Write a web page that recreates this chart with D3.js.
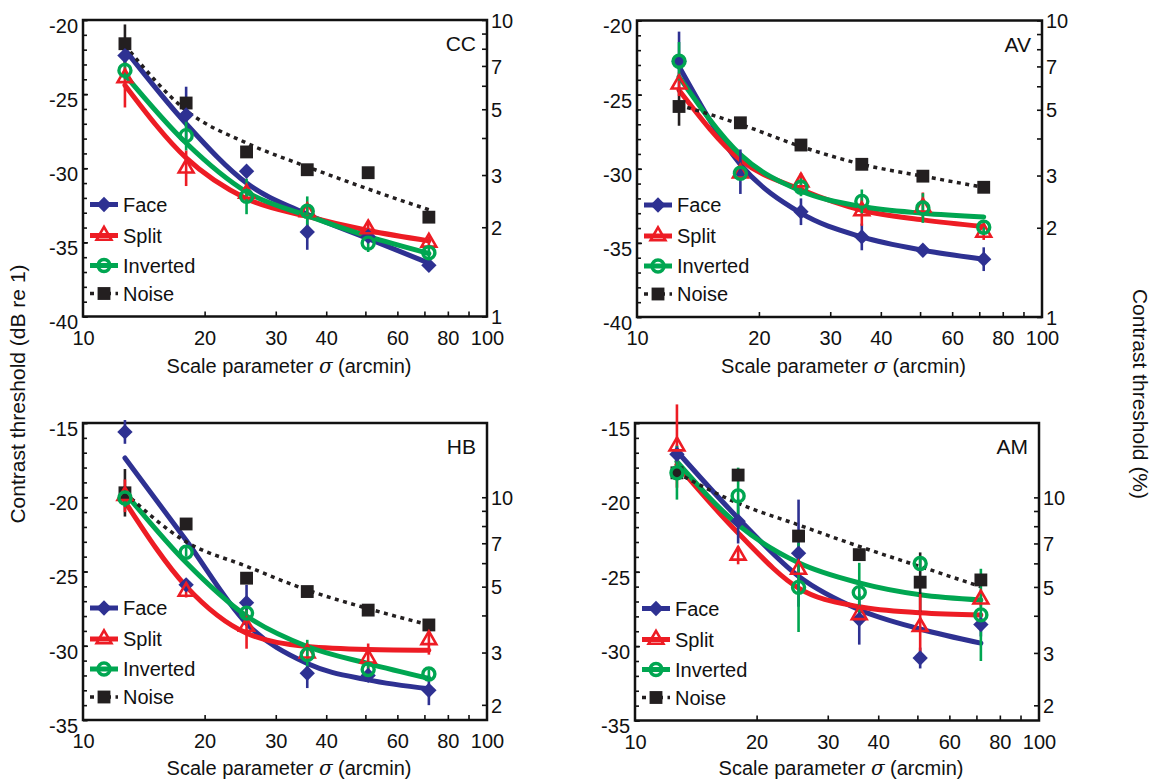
<!DOCTYPE html>
<html>
<head>
<meta charset="utf-8">
<script src="https://cdn.jsdelivr.net/npm/d3@7"></script>
<style>
  body { margin: 0; background: #fff; }
  svg { display: block; font-family: "Liberation Sans", Arial, Helvetica, sans-serif; }
</style>
</head>
<body>
<svg id="chart" width="1154" height="781"></svg>
<script>
// scale parameter sigma (arcmin), shared by every panel
const sigma = [12.7, 18, 25.4, 35.9, 50.8, 71.8];
const seriesNames = ["Face", "Split", "Inverted", "Noise"];
const observers = ["CC", "AV", "HB", "AM"];

// thresholds in dB, rows follow seriesNames
const ccMean = [
  [-22.4, -26.4, -30.2, -34.3, -34.6, -36.55],
  [-23.9, -30.0, -31.7, -32.95, -34.1, -35.0],
  [-23.4, -27.8, -31.9, -32.9, -35.05, -35.7],
  [-21.6, -25.6, -28.9, -30.1, -30.3, -33.3],
];
const ccErr = [
  [0.5, 1.9, 0.4, 1.2, 0.4, 0.3],
  [2.0, 1.2, 0.4, 0.4, 0.4, 0.4],
  [0.6, 1.0, 1.2, 1.0, 0.6, 0.4],
  [1.3, 0.4, 0.3, 0.3, 0.3, 0.3],
];
const ccFit = [
  [-22.0, -27.0, -31.0, -33.1, -34.75, -36.4],
  [-24.4, -29.3, -32.05, -33.25, -34.2, -34.9],
  [-23.7, -28.3, -31.6, -33.2, -34.6, -35.75],
  [-21.7, -26.1, -28.3, -29.9, -31.4, -32.8],
];

const avMean = [
  [-22.75, -30.2, -32.9, -34.6, -35.5, -36.1],
  [-24.3, -30.3, -30.9, -32.85, -32.6, -34.3],
  [-22.75, -30.3, -31.25, -32.2, -32.65, -33.95],
  [-25.8, -26.9, -28.4, -29.7, -30.5, -31.25],
];
const avErr = [
  [2.0, 1.5, 0.9, 0.9, 0.4, 0.8],
  [0.8, 0.4, 0.6, 1.0, 1.0, 0.5],
  [1.3, 0.4, 0.6, 0.8, 1.0, 0.5],
  [1.3, 0.3, 0.3, 0.3, 0.3, 0.3],
];
const avFit = [
  [-23.1, -29.7, -33.0, -34.6, -35.5, -36.1],
  [-24.7, -29.4, -31.4, -32.8, -33.45, -33.9],
  [-23.8, -29.05, -31.5, -32.55, -33.0, -33.25],
  [-25.7, -27.0, -28.5, -29.7, -30.5, -31.25],
];

const hbMean = [
  [-15.6, -25.9, -27.1, -31.85, -32.0, -33.0],
  [-19.9, -26.35, -28.7, -30.5, -30.85, -29.6],
  [-20.05, -23.7, -27.8, -30.6, -31.6, -31.9],
  [-19.7, -21.8, -25.45, -26.35, -27.6, -28.6],
];
const hbErr = [
  [0.8, 0.4, 1.2, 1.0, 0.4, 1.0],
  [1.1, 0.4, 1.5, 0.6, 1.0, 1.0],
  [0.6, 0.3, 0.4, 1.0, 0.4, 0.3],
  [1.6, 0.3, 0.3, 0.3, 0.3, 0.3],
];
const hbFit = [
  [-17.35, -22.9, -28.5, -31.2, -32.3, -32.9],
  [-20.3, -26.0, -29.15, -30.05, -30.25, -30.3],
  [-19.7, -24.4, -28.0, -30.05, -31.2, -32.2],
  [-19.7, -23.0, -24.65, -26.25, -27.5, -28.6],
];

const amMean = [
  [-17.1, -21.6, -23.75, -28.2, -30.8, -28.55],
  [-16.55, -23.9, -24.85, -27.9, -28.7, -26.85],
  [-18.35, -19.9, -26.05, -26.4, -24.45, -27.9],
  [-18.35, -18.5, -22.6, -23.85, -25.7, -25.55],
];
const amErr = [
  [0.6, 1.5, 3.6, 1.7, 0.7, 0.8],
  [2.8, 0.6, 0.5, 0.6, 2.2, 0.5],
  [1.8, 1.9, 3.0, 2.0, 0.5, 3.1],
  [0.5, 0.4, 0.3, 0.3, 2.0, 0.3],
];
const amFit = [
  [-16.9, -21.4, -25.3, -27.55, -28.85, -29.8],
  [-17.8, -22.4, -26.1, -27.35, -27.75, -27.9],
  [-17.6, -21.85, -24.4, -25.75, -26.55, -26.9],
  [-18.35, -20.4, -21.85, -23.3, -24.65, -26.0],
];

// axes
const xDomain = [10, 100];
const xTickLabels = [10, 20, 30, 40, 60, 80, 100];
const xMinorTicks = [20, 30, 40, 50, 60, 70, 80, 90];
const topDbDomain = [-40, -20];
const bottomDbDomain = [-35, -15];
const topDbLabels = [-40, -35, -30, -25, -20];
const bottomDbLabels = [-35, -30, -25, -20, -15];
const topPctLabels = [1, 2, 3, 5, 7, 10];
const bottomPctLabels = [2, 3, 5, 7, 10];
const pctTicks = [1, 2, 3, 4, 5, 6, 7, 8, 9, 10];

const colors = ["#2e3192", "#ed1c24", "#00a651", "#231f20"];

const svg = d3.select("#chart");

const panels = [
  { name: observers[0], mean: ccMean, err: ccErr, fit: ccFit, db: topDbDomain, dbLabels: topDbLabels, pctLabels: topPctLabels,
    x0: 83, x1: 487, y0: 20, y1: 316.5, xTitleY: 373 },
  { name: observers[1], mean: avMean, err: avErr, fit: avFit, db: topDbDomain, dbLabels: topDbLabels, pctLabels: topPctLabels,
    x0: 637, x1: 1042, y0: 20.5, y1: 317, xTitleY: 373 },
  { name: observers[2], mean: hbMean, err: hbErr, fit: hbFit, db: bottomDbDomain, dbLabels: bottomDbLabels, pctLabels: bottomPctLabels,
    x0: 83, x1: 487, y0: 423, y1: 720, xTitleY: 775 },
  { name: observers[3], mean: amMean, err: amErr, fit: amFit, db: bottomDbDomain, dbLabels: bottomDbLabels, pctLabels: bottomPctLabels,
    x0: 635, x1: 1039, y0: 423, y1: 720.5, xTitleY: 775 },
];

function marker(sel, i) {
  if (i === 0) {
    sel.append("path")
      .attr("d", d3.symbol().type(d3.symbolDiamond2).size(150)())
      .attr("fill", colors[0]);
  } else if (i === 1) {
    sel.append("path")
      .attr("d", d3.symbol().type(d3.symbolTriangle).size(95)())
      .attr("fill", "none").attr("stroke", colors[1]).attr("stroke-width", 2.6);
  } else if (i === 2) {
    sel.append("circle").attr("r", 6)
      .attr("fill", "none").attr("stroke", colors[2]).attr("stroke-width", 3.4);
  } else {
    sel.append("path")
      .attr("d", d3.symbol().type(d3.symbolSquare).size(165)())
      .attr("fill", colors[3]);
  }
}

function drawPanel(p) {
  const g = svg.append("g");
  const x = d3.scaleLog().domain(xDomain).range([p.x0, p.x1]);
  const y = d3.scaleLinear().domain(p.db).range([p.y1, p.y0]);
  const pct = d3.scaleLog()
    .domain(p.db.map((d) => 100 * Math.pow(10, d / 20)))
    .range([p.y1, p.y0]);

  // left axis: minor ticks every dB, labels every 5 dB
  g.append("g").attr("transform", `translate(${p.x0},0)`)
    .call(d3.axisLeft(y).tickValues(d3.range(p.db[0], p.db[1] + 1)).tickSize(-4).tickFormat(""))
    .call((a) => a.select(".domain").remove());
  g.append("g").attr("transform", `translate(${p.x0},0)`)
    .call(d3.axisLeft(y).tickValues(p.dbLabels).tickSize(-5).tickPadding(5).tickFormat((d) => String(d)))
    .call((a) => a.select(".domain").remove())
    .call((a) => a.selectAll("text").attr("dy", "0.62em").style("font-size", "20px").attr("fill", "#111"));

  // right axis: contrast in %
  const pTicks = pctTicks.filter((d) => d >= pct.domain()[0] - 1e-6 && d <= pct.domain()[1] + 1e-6);
  g.append("g").attr("transform", `translate(${p.x1},0)`)
    .call(d3.axisRight(pct).tickValues(pTicks).tickSize(-5).tickPadding(4)
      .tickFormat((d) => (p.pctLabels.includes(d) ? d : "")))
    .call((a) => a.select(".domain").remove())
    .call((a) => a.selectAll("text").attr("dy", "0.36em").style("font-size", "20px").attr("fill", "#111"));

  // bottom axis
  g.append("g").attr("transform", `translate(0,${p.y1})`)
    .call(d3.axisBottom(x).tickValues(xMinorTicks).tickSize(-5).tickFormat(""))
    .call((a) => a.select(".domain").remove());
  g.append("g").attr("transform", `translate(0,${p.y1})`)
    .call(d3.axisBottom(x).tickValues(xTickLabels).tickSize(0).tickPadding(14).tickFormat(d3.format("d")))
    .call((a) => a.select(".domain").remove())
    .call((a) => a.selectAll("text").style("font-size", "20px").attr("fill", "#111"));

  g.selectAll(".tick line").attr("stroke", "#111").attr("stroke-width", 1.6);

  // frame
  g.append("rect")
    .attr("x", p.x0).attr("y", p.y0)
    .attr("width", p.x1 - p.x0).attr("height", p.y1 - p.y0)
    .attr("fill", "none").attr("stroke", "#111").attr("stroke-width", 2.5);

  // x title
  const xt = g.append("text")
    .attr("x", (p.x0 + p.x1) / 2 + 4).attr("y", p.xTitleY)
    .attr("text-anchor", "middle").style("font-size", "20px").attr("fill", "#111");
  xt.append("tspan").text("Scale parameter ");
  xt.append("tspan").style("font-style", "italic").style("font-family", "'DejaVu Serif', serif").text("σ");
  xt.append("tspan").text(" (arcmin)");

  // observer label
  g.append("text")
    .attr("x", p.x1 - 11).attr("y", p.y0 + 31)
    .attr("text-anchor", "end").style("font-size", "21px").attr("fill", "#111")
    .text(p.name);

  // fitted curves (Face, Split, Inverted) and noise dotted line
  const line = d3.line()
    .x((d, i) => x(sigma[i]))
    .y((d) => y(d))
    .curve(d3.curveMonotoneX);
  [0, 1, 2].forEach((s) => {
    g.append("path").attr("d", line(p.fit[s]))
      .attr("fill", "none").attr("stroke", colors[s]).attr("stroke-width", 5)
      .attr("stroke-linecap", "round");
  });
  g.append("path").attr("d", line(p.fit[3]))
    .attr("fill", "none").attr("stroke", colors[3]).attr("stroke-width", 3.5)
    .attr("stroke-dasharray", "4,4.5");

  // error bars
  [3, 0, 1, 2].forEach((s) => {
    g.append("g").selectAll("line")
      .data(p.mean[s])
      .join("line")
      .attr("x1", (d, i) => x(sigma[i])).attr("x2", (d, i) => x(sigma[i]))
      .attr("y1", (d, i) => y(d + p.err[s][i])).attr("y2", (d, i) => y(d - p.err[s][i]))
      .attr("stroke", colors[s]).attr("stroke-width", 2.6);
  });

  // markers
  [3, 0, 1, 2].forEach((s) => {
    g.append("g").selectAll("g")
      .data(p.mean[s])
      .join("g")
      .attr("transform", (d, i) => `translate(${x(sigma[i])},${y(d)})`)
      .each(function () { marker(d3.select(this), s); });
  });

  // legend
  const lg = g.append("g").attr("transform", `translate(${p.x0 + 7},${p.y1})`);
  const rowY = [-112, -81, -51, -23];
  seriesNames.forEach((name, s) => {
    const row = lg.append("g").attr("transform", `translate(0,${rowY[s]})`);
    row.append("line").attr("x1", 0).attr("x2", 28)
      .attr("stroke", colors[s])
      .attr("stroke-width", s === 3 ? 3.5 : 5)
      .attr("stroke-dasharray", s === 3 ? "4,4.5" : null);
    const m = row.append("g").attr("transform", "translate(14,0)");
    marker(m, s);
    row.append("text").attr("x", 33).attr("dy", "0.36em")
      .style("font-size", "20px").attr("fill", "#111").text(name);
  });
}

panels.forEach(drawPanel);

// shared axis titles
svg.append("text")
  .attr("transform", "translate(18,394) rotate(-90)")
  .attr("text-anchor", "middle").attr("dy", "0.35em")
  .style("font-size", "21px").attr("fill", "#111")
  .text("Contrast threshold (dB re 1)");
svg.append("text")
  .attr("transform", "translate(1140,394) rotate(90)")
  .attr("text-anchor", "middle").attr("dy", "0.35em")
  .style("font-size", "21px").attr("fill", "#111")
  .text("Contrast threshold (%)");
</script>
</body>
</html>
